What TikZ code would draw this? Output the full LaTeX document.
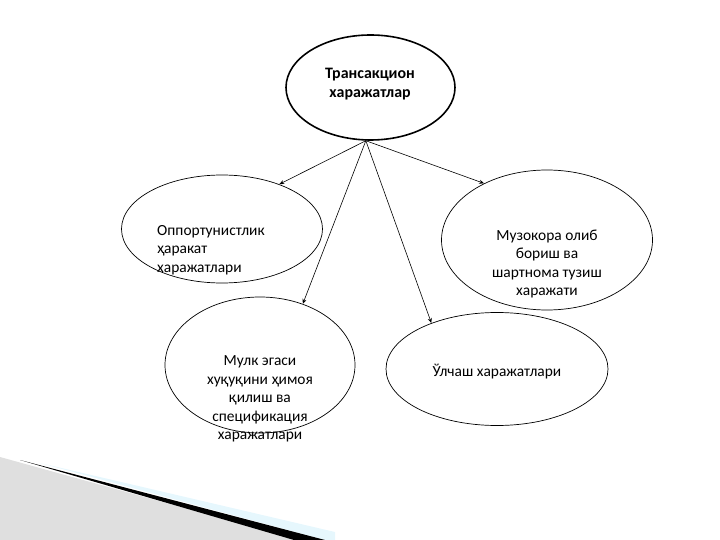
\documentclass[tikz,border=0pt]{standalone}
\usepackage{fontspec}
\setmainfont{Carlito}
\usetikzlibrary{arrows.meta,shapes.geometric}

\tikzset{
  oval/.style={ellipse,draw=black,line width=0.7pt,inner sep=0pt,fill=white},
  txt/.style={font=\fontsize{15.5}{18.5}\selectfont,align=center,inner sep=0pt},
  arr/.style={line width=0.6pt,-{Stealth[length=5pt,width=4pt]}}
}

\begin{document}
\begin{tikzpicture}[line cap=round,line join=round,x=1bp,y=-1bp]
\useasboundingbox (0,0) rectangle (720,540);
% corner decoration
\fill[gray!25] (0,457) -- (300,540) -- (0,540) -- cycle;
\fill[cyan!10] (40,463) -- (335,532) -- (335,540) -- (325,540) -- cycle;
\fill[black] (20,460) -- (325,540) -- (294,540) -- cycle;
% ovals
\node[oval,line width=1.6pt,minimum width=169bp,minimum height=105bp] (top) at (370.5,87.5) {};
\node[oval,minimum width=201bp,minimum height=108bp] (opp) at (222,229) {};
\node[oval,minimum width=211bp,minimum height=140bp] (muz) at (547,240) {};
\node[oval,minimum width=190bp,minimum height=136bp] (mulk) at (260,365) {};
\node[oval,minimum width=222bp,minimum height=113bp] (ulch) at (497,369) {};
% texts
\node[txt,font=\fontsize{16}{19}\selectfont\bfseries] (top-t) at (370,84) {Трансакцион\\харажатлар};
\node[txt,align=left,anchor=west] (opp-t) at (157,250) {Оппортунистлик\\ҳаракат\\харажатлари};
\node[txt] (muz-t) at (547,264) {Музокора олиб\\бориш ва\\шартнома тузиш\\харажати};
\node[txt] (mulk-t) at (260,399) {Мулк эгаси\\хуқуқини ҳимоя\\қилиш ва\\спецификация\\харажатлари};
\node[txt] (ulch-t) at (497,372) {Ўлчаш харажатлари};
% arrows
\draw[arr] (top.265) -- (opp.38);
\draw[arr] (top.265) -- (muz.138);
\draw[arr] (top.265) -- (mulk.55);
\draw[arr] (top.265) -- (ulch.145);
\end{tikzpicture}
\end{document}
